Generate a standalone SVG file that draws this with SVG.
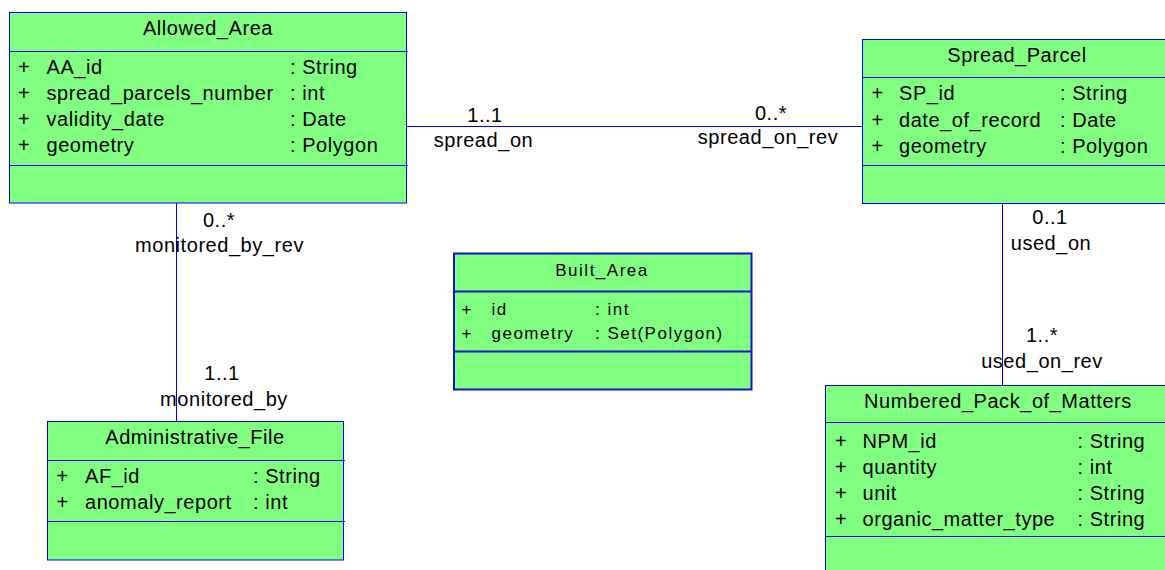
<svg xmlns="http://www.w3.org/2000/svg" width="1165" height="570" viewBox="0 0 1165 570">
<style>
.box{fill:#80ff80;stroke:#0000ff;stroke-width:1}
.box2{fill:#80ff80;stroke:#1414cc;stroke-width:2}
.sep{stroke:#0000ff;stroke-width:1;fill:none}
.sep2{stroke:#1414cc;stroke-width:2;fill:none}
.conn{stroke:#0000ff;stroke-width:1;fill:none}
text{font-family:"Liberation Sans",Arial,sans-serif;font-size:20px;letter-spacing:0.55px;fill:#000}
.small{font-size:17px;letter-spacing:1.5px}
.mid{text-anchor:middle}
</style>
<rect width="1165" height="570" fill="#ffffff"/>
<g id="connectors">
  <line class="conn" x1="406.5" y1="126.5" x2="862.5" y2="126.5"/>
  <line class="conn" x1="176.5" y1="203" x2="176.5" y2="421.5"/>
  <line class="conn" x1="1002.5" y1="203.5" x2="1002.5" y2="385.5"/>
  <text class="mid" x="485" y="121.5">1..1</text>
  <text class="mid" x="483.5" y="146.5">spread_on</text>
  <text class="mid" x="771" y="120">0..*</text>
  <text class="mid" x="768" y="143.5">spread_on_rev</text>
  <text class="mid" x="219" y="226.5">0..*</text>
  <text class="mid" x="219.5" y="252">monitored_by_rev</text>
  <text class="mid" x="222" y="380">1..1</text>
  <text class="mid" x="224" y="405.5">monitored_by</text>
  <text class="mid" x="1050" y="224">0..1</text>
  <text class="mid" x="1051" y="250">used_on</text>
  <text class="mid" x="1042" y="341.5">1..*</text>
  <text class="mid" x="1042" y="368">used_on_rev</text>
</g>
<g id="Allowed_Area">
  <rect class="box" x="9.5" y="12.5" width="397" height="190.5"/>
  <line class="sep" x1="9.5" y1="51.5" x2="408" y2="51.5"/>
  <line class="sep" x1="9.5" y1="165.5" x2="408" y2="165.5"/>
  <text class="mid" x="208" y="35">Allowed_Area</text>
  <text x="18" y="74">+</text><text x="46.5" y="74">AA_id</text><text x="290" y="74">: String</text>
  <text x="18" y="100">+</text><text x="46.5" y="100">spread_parcels_number</text><text x="290" y="100">: int</text>
  <text x="18" y="126">+</text><text x="46.5" y="126">validity_date</text><text x="290" y="126">: Date</text>
  <text x="18" y="152">+</text><text x="46.5" y="152">geometry</text><text x="290" y="152">: Polygon</text>
</g>
<g id="Spread_Parcel">
  <rect class="box" x="862.5" y="39.5" width="310" height="164"/>
  <line class="sep" x1="862.5" y1="77.5" x2="1172" y2="77.5"/>
  <line class="sep" x1="862.5" y1="165.5" x2="1172" y2="165.5"/>
  <text class="mid" x="1017" y="61.5">Spread_Parcel</text>
  <text x="871.5" y="100">+</text><text x="899" y="100">SP_id</text><text x="1060" y="100">: String</text>
  <text x="871.5" y="126.5">+</text><text x="899" y="126.5">date_of_record</text><text x="1060" y="126.5">: Date</text>
  <text x="871.5" y="153">+</text><text x="899" y="153">geometry</text><text x="1060" y="153">: Polygon</text>
</g>
<g id="Built_Area">
  <rect class="box2" x="454" y="253.5" width="297.5" height="136"/>
  <line class="sep2" x1="454" y1="291.5" x2="751.5" y2="291.5"/>
  <line class="sep2" x1="454" y1="351.5" x2="751.5" y2="351.5"/>
  <text class="mid small" x="602" y="276">Built_Area</text>
  <text class="small" x="461.5" y="315">+</text><text class="small" x="491.5" y="315">id</text><text class="small" x="595" y="315">: int</text>
  <text class="small" x="461.5" y="339">+</text><text class="small" x="491.5" y="339">geometry</text><text class="small" x="595" y="339">: Set(Polygon)</text>
</g>
<g id="Administrative_File">
  <rect class="box" x="47.5" y="421.5" width="296" height="138.5"/>
  <line class="sep" x1="47.5" y1="460.5" x2="345" y2="460.5"/>
  <line class="sep" x1="47.5" y1="521.5" x2="345" y2="521.5"/>
  <text class="mid" x="195" y="443.5">Administrative_File</text>
  <text x="56.5" y="482.5">+</text><text x="85" y="482.5">AF_id</text><text x="253" y="482.5">: String</text>
  <text x="56.5" y="509">+</text><text x="85" y="509">anomaly_report</text><text x="253" y="509">: int</text>
</g>
<g id="Numbered_Pack_of_Matters">
  <rect class="box" x="825.5" y="385.5" width="350" height="200"/>
  <line class="sep" x1="825.5" y1="422.5" x2="1175" y2="422.5"/>
  <line class="sep" x1="825.5" y1="536.5" x2="1175" y2="536.5"/>
  <text class="mid" x="998" y="407.5">Numbered_Pack_of_Matters</text>
  <text x="835" y="447.5">+</text><text x="862.5" y="447.5">NPM_id</text><text x="1077.5" y="447.5">: String</text>
  <text x="835" y="473.5">+</text><text x="862.5" y="473.5">quantity</text><text x="1077.5" y="473.5">: int</text>
  <text x="835" y="499.5">+</text><text x="862.5" y="499.5">unit</text><text x="1077.5" y="499.5">: String</text>
  <text x="835" y="525.5">+</text><text x="862.5" y="525.5">organic_matter_type</text><text x="1077.5" y="525.5">: String</text>
</g>
</svg>
